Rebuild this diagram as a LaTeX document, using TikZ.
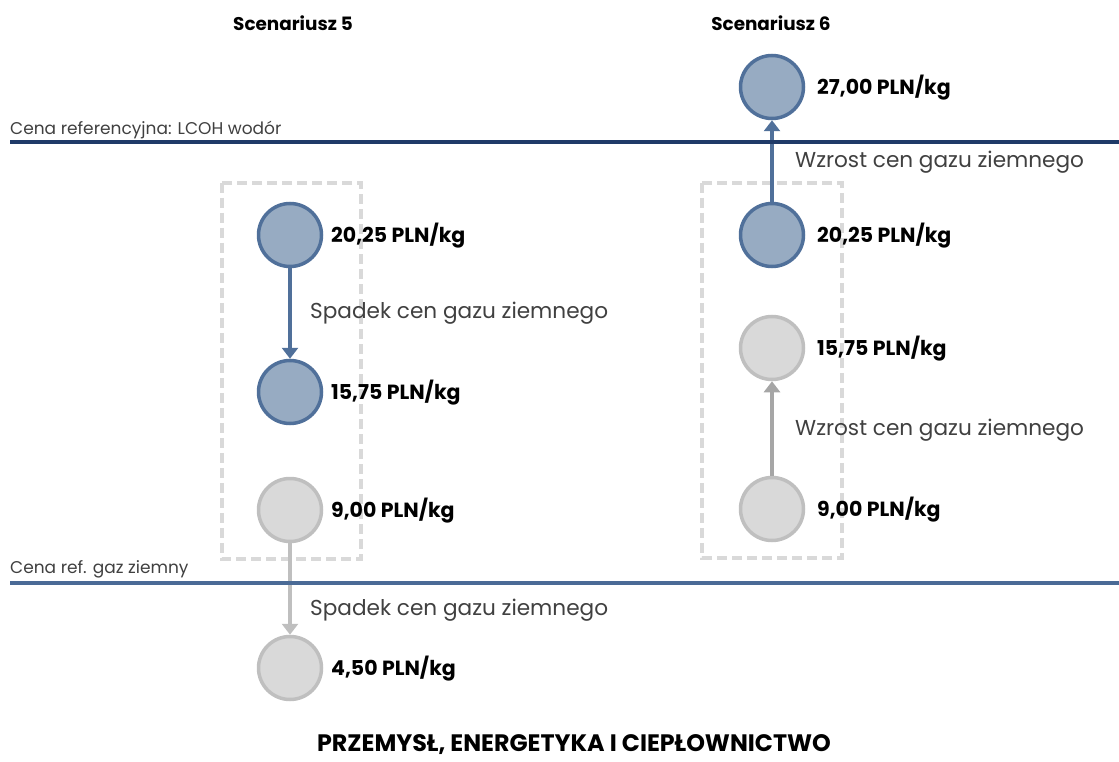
\documentclass[tikz,border=0pt]{standalone}
\usepackage{fontspec}
\setmainfont{Poppins}
\usetikzlibrary{arrows.meta}
\definecolor{navy}{HTML}{1F3A68}
\definecolor{steel}{HTML}{4A6A96}
\definecolor{bluefill}{HTML}{97ABC2}
\definecolor{bluedraw}{HTML}{50709A}
\definecolor{greyfill}{HTML}{D9D9D9}
\definecolor{greydraw}{HTML}{BFBFBF}
\definecolor{greyarrow}{HTML}{A6A6A6}
\definecolor{boxgrey}{HTML}{D9D9D9}
\definecolor{txt}{HTML}{404040}
\tikzset{
  x=1pt, y=-1pt,
  bluedot/.style={circle, minimum size=63pt, inner sep=0pt, line width=3.5pt, draw=bluedraw, fill=bluefill},
  greydot/.style={circle, minimum size=63pt, inner sep=0pt, line width=3.5pt, draw=greydraw, fill=greyfill},
  price/.style={anchor=west, inner sep=0pt, font=\fontsize{20.5}{24}\selectfont\bfseries, text=black},
  change/.style={anchor=west, inner sep=0pt, font=\fontsize{21.6}{26}\selectfont, text=txt},
  reflabel/.style={anchor=west, inner sep=0pt, font=\fontsize{17}{20}\selectfont, text=txt},
  heading/.style={inner sep=0pt, font=\fontsize{18.4}{22}\selectfont\bfseries, text=black},
  refline/.style={line width=3.8pt},
  frame/.style={draw=boxgrey, line width=3.5pt, dash pattern=on 10pt off 5pt},
  bluearrow/.style={draw=bluedraw, line width=3.5pt, -{Triangle[length=11pt,width=16pt]}},
  greyarr/.style={draw=greydraw, line width=3.5pt, -{Triangle[length=11pt,width=16pt]}},
  darkgreyarr/.style={draw=greyarrow, line width=3.5pt, -{Triangle[length=11pt,width=16pt]}},
}
\begin{document}
\begin{tikzpicture}
\useasboundingbox (0,0) rectangle (1119,762);

% dashed frames around the scenario ranges
\draw[frame] (222,183) rectangle (361,559);
\draw[frame] (702,183) rectangle (842,558);

% headings
\node[heading] (h5) at (293,23) {Scenariusz 5};
\node[heading] (h6) at (771,23) {Scenariusz 6};

% scenario 5
\node[bluedot] (a1) at (290,235) {};
\node[bluedot] (a2) at (290,392) {};
\node[greydot] (a3) at (290,510) {};
\node[greydot] (a4) at (290,668) {};
\node[price] (la1) at (331,236) {20,25 PLN/kg};
\node[price] (la2) at (331,393) {15,75 PLN/kg};
\node[price] (la3) at (331,511) {9,00 PLN/kg};
\node[price] (la4) at (331,669) {4,50 PLN/kg};

% scenario 6
\node[bluedot] (b0) at (772,87) {};
\node[bluedot] (b1) at (772,235) {};
\node[greydot] (b2) at (772,348) {};
\node[greydot] (b3) at (772,509) {};
\node[price] (lb0) at (817,88) {27,00 PLN/kg};
\node[price] (lb1) at (817,236) {20,25 PLN/kg};
\node[price] (lb2) at (817,349) {15,75 PLN/kg};
\node[price] (lb3) at (817,510) {9,00 PLN/kg};

% price movements
\draw[bluearrow] (a1) -- (a2);
\draw[greyarr] (a3) -- (a4);
\draw[bluearrow] (b1) -- (b0);
\draw[darkgreyarr] (b3) -- (b2);

\node[change] (ta1) at (310,313) {Spadek cen gazu ziemnego};
\node[change] (ta3) at (310,610) {Spadek cen gazu ziemnego};
\node[change] (tb1) at (795,162) {Wzrost cen gazu ziemnego};
\node[change] (tb3) at (795,430) {Wzrost cen gazu ziemnego};

% reference price lines
\coordinate (r1a) at (10,142);
\coordinate (r1b) at (1119,142);
\coordinate (r2a) at (10,583);
\coordinate (r2b) at (1119,583);
\draw[refline, navy] (r1a) -- (r1b);
\draw[refline, steel] (r2a) -- (r2b);
\node[reflabel] (l1) at (10,130) {Cena referencyjna: LCOH wodór};
\node[reflabel] (l2) at (10,569) {Cena ref. gaz ziemny};

% sector title
\node[inner sep=0pt, font=\fontsize{23.8}{28}\selectfont\bfseries, text=black] (title) at (574,745) {PRZEMYSŁ, ENERGETYKA I CIEPŁOWNICTWO};
\end{tikzpicture}
\end{document}
